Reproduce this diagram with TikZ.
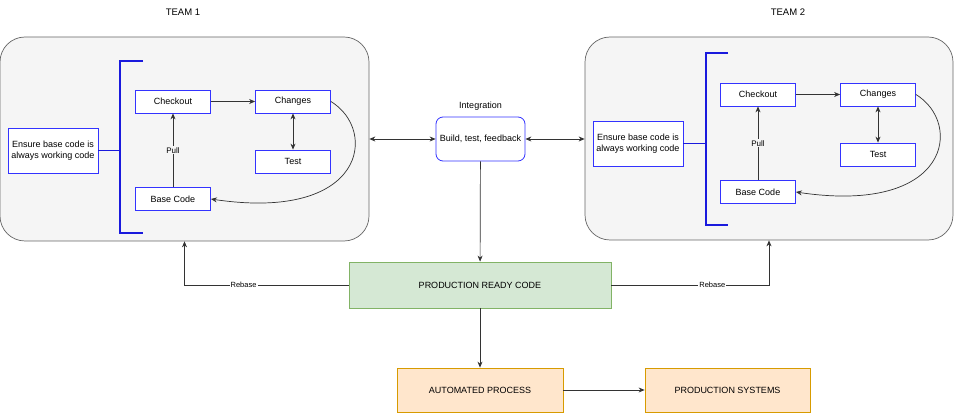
\documentclass[tikz,border=0pt]{standalone}
\usepackage{fontspec}
\setmainfont{Liberation Sans}
\usetikzlibrary{arrows.meta}
\definecolor{boxgray}{HTML}{F5F5F5}
\definecolor{linegray}{HTML}{666666}
\definecolor{stepblue}{HTML}{3333FF}
\definecolor{bracketblue}{HTML}{1A1ADD}
\definecolor{greenfill}{HTML}{D5E8D4}
\definecolor{greendraw}{HTML}{82B366}
\definecolor{orangefill}{HTML}{FFE6CC}
\definecolor{orangedraw}{HTML}{D79B00}

\begin{document}
\begin{tikzpicture}[x=1pt, y=-1pt, font=\fontsize{9}{10.5}\selectfont,
    teambox/.style={draw=linegray, fill=boxgray, line width=0.7pt, rounded corners=25pt},
    stepbox/.style={draw=stepblue, fill=white, line width=0.8pt, minimum width=75pt, minimum height=23pt, inner sep=1pt},
    ensurebox/.style={draw=stepblue, fill=white, line width=0.8pt, minimum width=90pt, minimum height=45pt, align=center, inner sep=1pt},
    bracket/.style={draw=bracketblue, line width=1.6pt},
    arrow/.style={draw=black!80, line width=0.7pt, -{Stealth[length=6pt, width=5pt]}},
    dblarrow/.style={draw=black!80, line width=0.7pt, {Stealth[length=6pt, width=5pt]}-{Stealth[length=6pt, width=5pt]}},
    edgelabel/.style={fill=#1, inner sep=1pt, font=\fontsize{7.5}{8}\selectfont},
    bigbox/.style={minimum width=262pt, minimum height=46pt, line width=0.8pt, inner sep=1pt}]
    \useasboundingbox (0,0) rectangle (954,414);

    % Draw team boxes
    \node[teambox, minimum width=369pt, minimum height=204pt] (team1) at (184.5,139) {};
    \node[teambox, minimum width=368pt, minimum height=203pt] (team2) at (769,138.5) {};
    \node[font=\fontsize{9.5}{10}\selectfont] (title1) at (183,12) {TEAM 1};
    \node[font=\fontsize{9.5}{10}\selectfont] (title2) at (788,12) {TEAM 2};

    % Draw team 1 nodes
    \node[ensurebox] (ensure1) at (53,150.5) {Ensure base code is\\always working code};
    \node[stepbox] (checkout1) at (173,101.5) {Checkout};
    \node[stepbox] (changes1) at (293,101.5) {Changes};
    \node[stepbox] (test1) at (293,161.5) {Test};
    \node[stepbox] (base1) at (173,199) {Base Code};
    \coordinate (brk1) at (120,150.5);

    % Draw team 2 nodes
    \node[ensurebox] (ensure2) at (638,143.5) {Ensure base code is\\always working code};
    \node[stepbox] (checkout2) at (758,94.5) {Checkout};
    \node[stepbox] (changes2) at (878,94.5) {Changes};
    \node[stepbox] (test2) at (878,154.5) {Test};
    \node[stepbox] (base2) at (758,192) {Base Code};
    \coordinate (brk2) at (706,143.5);

    % Draw shared nodes
    \node[draw=stepblue, fill=white, line width=0.8pt, rounded corners=7pt, minimum width=89pt, minimum height=44pt, inner sep=1pt] (integ) at (480.5,139) {Build, test, feedback};
    \node[above=3pt] (integlabel) at (integ.north) {Integration};
    \node[bigbox, draw=greendraw, fill=greenfill] (prod) at (480,285) {PRODUCTION READY CODE};
    \node[draw=orangedraw, fill=orangefill, line width=0.8pt, minimum width=166pt, minimum height=44pt] (auto) at (480,390) {AUTOMATED PROCESS};
    \node[draw=orangedraw, fill=orangefill, line width=0.8pt, minimum width=165pt, minimum height=44pt] (prodsys) at (727.5,390) {PRODUCTION SYSTEMS};

    % Draw brackets
    \draw[bracket] (143,61) -- (120,61) -- (120,233) -- (143,233);
    \draw[bracket] (ensure1.east) -- (brk1);
    \draw[bracket] (728,53) -- (706,53) -- (706,225) -- (728,225);
    \draw[bracket] (ensure2.east) -- (brk2);

    % Draw connections inside teams
    \draw[arrow] (checkout1) -- (changes1);
    \draw[dblarrow] (changes1) -- (test1);
    \draw[arrow] (base1) -- (checkout1) node[midway, edgelabel=boxgray, font=\fontsize{8}{9}\selectfont] {Pull};
    \draw[arrow] (changes1.east) .. controls (378,130) and (366,222) .. (base1.east);
    \draw[arrow] (checkout2) -- (changes2);
    \draw[dblarrow] (changes2) -- (test2);
    \draw[arrow] (base2) -- (checkout2) node[midway, edgelabel=boxgray, font=\fontsize{8}{9}\selectfont] {Pull};
    \draw[arrow] (changes2.east) .. controls (963,123) and (951,215) .. (base2.east);

    % Draw connections between teams
    \draw[dblarrow] (team1.east) -- (integ.west);
    \draw[dblarrow] (integ.east) -- (integ.east -| team2.west);
    \draw[arrow] (integ) -- (prod);
    \draw[arrow] (prod.west) -| (team1.south) node[pos=0.32, edgelabel=white] {Rebase};
    \draw[arrow] (prod.east) -| (team2.south) node[pos=0.32, edgelabel=white] {Rebase};
    \draw[arrow] (prod) -- (auto);
    \draw[arrow] (auto) -- (prodsys);
\end{tikzpicture}
\end{document}
